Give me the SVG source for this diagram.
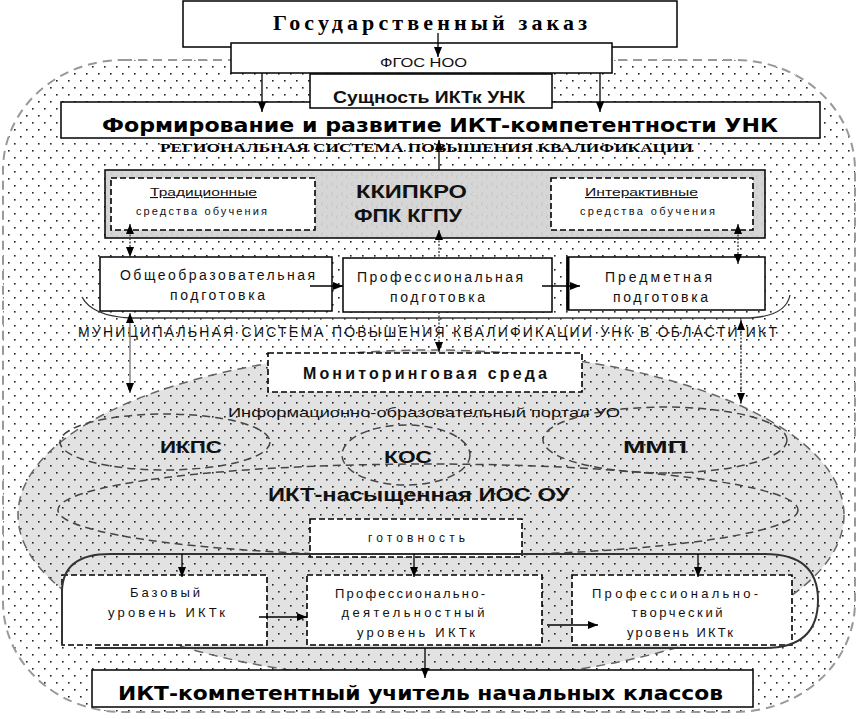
<svg xmlns="http://www.w3.org/2000/svg" width="859" height="719" viewBox="0 0 859 719">
<defs>
<pattern id="dots" width="12" height="14" patternUnits="userSpaceOnUse"><rect x="2" y="3" width="1.6" height="1.6" fill="#222"/><rect x="8" y="10" width="1.6" height="1.6" fill="#222"/></pattern>
<pattern id="greyp" width="10" height="10" patternUnits="userSpaceOnUse"><rect width="10" height="10" fill="#d6d6d6"/><path d="M3,2 L1,4 L3,6 M8,5 L6,7 L8,9" stroke="#c2c2c2" fill="none" stroke-width="0.8"/></pattern>
<marker id="ah" viewBox="0 0 10 8" refX="10" refY="4" markerWidth="10" markerHeight="8" markerUnits="userSpaceOnUse" orient="auto-start-reverse"><path d="M0,0 L10,4 L0,8 z" fill="#000"/></marker>
<style>
.box{fill:#fff;stroke:#000;stroke-width:1.5}
.dbox{fill:#fff;stroke:#000;stroke-width:1.6;stroke-dasharray:6 3}
.t{font-family:"Liberation Sans",Arial,sans-serif;fill:#111}
.b{font-weight:bold}
.w{font-family:"DejaVu Sans",Verdana,sans-serif;font-weight:bold;fill:#000}
.s{font-family:"Liberation Serif","Times New Roman",serif;font-weight:bold;fill:#000}
.ell{fill:none;stroke:#444;stroke-width:1.5;stroke-dasharray:8 5}
.ln{stroke:#000;stroke-width:1.3;fill:none}
.dl{stroke:#333;stroke-width:1.3;stroke-dasharray:2 1.5;fill:none}
</style>
</defs>
<g id="outer">
<rect x="3" y="60" width="852" height="652" rx="120" ry="110" fill="#fff"/>
<rect x="3" y="60" width="852" height="652" rx="120" ry="110" fill="url(#dots)" stroke="#999" stroke-width="2" stroke-dasharray="9 6"/>
</g>
<g id="portal">
<ellipse cx="431" cy="515" rx="413" ry="165" fill="#e2e2e2"/>
<ellipse cx="431" cy="515" rx="413" ry="165" fill="url(#dots)" stroke="#666" stroke-width="1.5" stroke-dasharray="9 6"/>
<ellipse class="ell" cx="165" cy="442" rx="105" ry="28"/>
<ellipse class="ell" cx="406" cy="455" rx="64" ry="30"/>
<ellipse class="ell" cx="665" cy="440" rx="122" ry="33"/>
<ellipse class="ell" cx="428" cy="510" rx="370" ry="46"/>
<text class="t" x="228" y="417" font-size="13" textLength="392" lengthAdjust="spacingAndGlyphs">Информационно-образовательный портал УО</text>
<text class="t b" x="160" y="453" font-size="17" textLength="62" lengthAdjust="spacingAndGlyphs">ИКПС</text>
<text class="t b" x="384" y="463" font-size="17" textLength="48" lengthAdjust="spacingAndGlyphs">КОС</text>
<text class="t b" x="623" y="453" font-size="17" textLength="64" lengthAdjust="spacingAndGlyphs">ММП</text>
<text class="t b" x="268" y="501" font-size="18" textLength="302" lengthAdjust="spacingAndGlyphs">ИКТ-насыщенная ИОС ОУ</text>
</g>
<g id="goszakaz">
<rect class="box" x="183" y="1" width="494" height="46"/>
<text class="s" x="273" y="30" font-size="22" textLength="314" lengthAdjust="spacing">Государственный заказ</text>
</g>
<g id="formirovanie">
<rect class="box" x="61" y="102" width="759" height="36"/>
<text class="w" x="102" y="132" font-size="19" textLength="676" lengthAdjust="spacingAndGlyphs">Формирование и развитие ИКТ-компетентности УНК</text>
</g>
<g id="fgos">
<rect class="box" x="231" y="43" width="381" height="30"/>
<text class="t" x="380" y="67" font-size="13" textLength="87" lengthAdjust="spacingAndGlyphs">ФГОС НОО</text>
</g>
<g id="sushnost">
<rect class="box" x="310" y="74" width="242" height="34"/>
<text class="t b" x="333" y="103" font-size="16" textLength="192" lengthAdjust="spacingAndGlyphs">Сущность ИКТк УНК</text>
</g>
<g id="regional">
<text class="s" x="160" y="152" font-size="13" textLength="533" lengthAdjust="spacingAndGlyphs">РЕГИОНАЛЬНАЯ СИСТЕМА ПОВЫШЕНИЯ КВАЛИФИКАЦИИ</text>
</g>
<g id="kkipkro">
<rect x="105" y="170" width="660" height="68" fill="url(#greyp)" stroke="#000" stroke-width="1.5"/>
<text class="t b" x="356" y="198" font-size="19" textLength="111" lengthAdjust="spacingAndGlyphs">ККИПКРО</text>
<text class="t b" x="354" y="222" font-size="19" textLength="108" lengthAdjust="spacingAndGlyphs">ФПК КГПУ</text>
</g>
<g id="tradicionnye">
<rect class="dbox" x="111" y="178" width="204" height="52"/>
<text class="t" x="150" y="196" font-size="11" textLength="107" lengthAdjust="spacingAndGlyphs" text-decoration="underline">Традиционные</text>
<text class="t" x="136" y="215" font-size="11" textLength="131" lengthAdjust="spacing">средства  обучения</text>
</g>
<g id="interaktivnye">
<rect class="dbox" x="551" y="178" width="202" height="52"/>
<text class="t" x="585" y="196" font-size="11" textLength="113" lengthAdjust="spacingAndGlyphs" text-decoration="underline">Интерактивные</text>
<text class="t" x="580" y="215" font-size="11" textLength="135" lengthAdjust="spacing">средства  обучения</text>
</g>
<g id="obsheobraz">
<rect class="box" x="100" y="257" width="232" height="54"/>
<text class="t" x="120" y="280" font-size="14" textLength="195" lengthAdjust="spacing">Общеобразовательная</text>
<text class="t" x="170" y="300" font-size="14" textLength="95" lengthAdjust="spacing">подготовка</text>
</g>
<g id="professional">
<rect class="box" x="343" y="258" width="209" height="54"/>
<text class="t" x="357" y="282" font-size="14" textLength="166" lengthAdjust="spacing">Профессиональная</text>
<text class="t" x="390" y="302" font-size="14" textLength="95" lengthAdjust="spacing">подготовка</text>
</g>
<g id="predmetnaya">
<rect class="box" x="567" y="257" width="198" height="53"/>
<line x1="568" y1="257" x2="568" y2="310" stroke="#000" stroke-width="3"/>
<text class="t" x="605" y="282" font-size="14" textLength="107" lengthAdjust="spacing">Предметная</text>
<text class="t" x="613" y="302" font-size="14" textLength="95" lengthAdjust="spacing">подготовка</text>
</g>
<g id="municipal">
<text class="t" x="78" y="337" font-size="14" textLength="699" lengthAdjust="spacing">МУНИЦИПАЛЬНАЯ СИСТЕМА ПОВЫШЕНИЯ КВАЛИФИКАЦИИ УНК В ОБЛАСТИ ИКТ</text>
</g>
<g id="monitoring">
<rect class="dbox" x="268" y="353" width="314" height="39"/>
<text class="t b" x="303" y="379" font-size="16" textLength="244" lengthAdjust="spacing">Мониторинговая  среда</text>
</g>
<g id="gotovnost">
<rect class="dbox" x="310" y="519" width="212" height="38"/>
<text class="t" x="368" y="542" font-size="12" textLength="97" lengthAdjust="spacing">готовность</text>
</g>
<g id="bazovy">
<rect class="dbox" x="62" y="575" width="205" height="70"/>
<text class="t" x="130" y="597" font-size="13" textLength="70" lengthAdjust="spacing">Базовый</text>
<text class="t" x="108" y="617" font-size="13" textLength="117" lengthAdjust="spacing">уровень ИКТк</text>
</g>
<g id="prof-deyat">
<rect class="dbox" x="307" y="575" width="235" height="70"/>
<text class="t" x="410" y="598" font-size="13" text-anchor="middle" textLength="150" lengthAdjust="spacing">Профессионально-</text>
<text class="t" x="413" y="617" font-size="13" text-anchor="middle" textLength="143" lengthAdjust="spacing">деятельностный</text>
<text class="t" x="416" y="637" font-size="13" text-anchor="middle" textLength="118" lengthAdjust="spacing">уровень ИКТк</text>
</g>
<g id="prof-tvorch">
<rect class="dbox" x="572" y="575" width="220" height="70"/>
<text class="t" x="675" y="598" font-size="13" text-anchor="middle" textLength="166" lengthAdjust="spacing">Профессионально-</text>
<text class="t" x="677" y="617" font-size="13" text-anchor="middle" textLength="91" lengthAdjust="spacing">творческий</text>
<text class="t" x="680" y="637" font-size="13" text-anchor="middle" textLength="106" lengthAdjust="spacing">уровень ИКТк</text>
</g>
<g id="ikt-teacher">
<rect class="box" x="92" y="670" width="661" height="37" stroke-width="2"/>
<text class="w" x="118" y="700" font-size="19" textLength="605" lengthAdjust="spacingAndGlyphs">ИКТ-компетентный учитель начальных классов</text>
</g>
<g id="connectors">
<path d="M82,297 Q92,316 130,318 L750,318 Q786,316 790,295" stroke="#333" stroke-width="1.3" fill="none"/>
<path d="M62,645 L62,592 Q62,554 110,554 L765,554 Q818,554 818,600 Q818,648 765,648 L95,648" stroke="#333" stroke-width="2" fill="none"/>
<line class="ln" x1="438" y1="33" x2="438" y2="57" marker-end="url(#ah)"/>
<line class="ln" x1="262" y1="73" x2="262" y2="112" stroke="#555" marker-end="url(#ah)"/>
<line class="ln" x1="600" y1="73" x2="600" y2="112" marker-end="url(#ah)"/>
<line class="ln" x1="439" y1="170" x2="439" y2="140" marker-end="url(#ah)"/>
<line class="dl" x1="439" y1="230" x2="439" y2="258" marker-start="url(#ah)"/>
<line class="dl" x1="439" y1="312" x2="439" y2="352" marker-end="url(#ah)"/>
<line class="dl" x1="130" y1="224" x2="130" y2="257" marker-start="url(#ah)" marker-end="url(#ah)"/>
<line x1="130" y1="313" x2="130" y2="393" stroke="#888" stroke-width="1.5" marker-start="url(#ah)" marker-end="url(#ah)"/>
<line class="dl" x1="738" y1="224" x2="738" y2="264" marker-start="url(#ah)" marker-end="url(#ah)"/>
<line class="dl" x1="741" y1="320" x2="741" y2="403" marker-start="url(#ah)" marker-end="url(#ah)"/>
<line class="ln" x1="310" y1="286" x2="343" y2="286" marker-end="url(#ah)"/>
<line class="ln" x1="542" y1="286" x2="580" y2="286" marker-end="url(#ah)"/>
<line class="ln" x1="182" y1="554" x2="182" y2="577" marker-end="url(#ah)"/>
<line class="ln" x1="414" y1="554" x2="414" y2="577" marker-end="url(#ah)"/>
<line class="ln" x1="698" y1="554" x2="698" y2="577" marker-end="url(#ah)"/>
<line class="ln" x1="259" y1="617" x2="307" y2="617" marker-end="url(#ah)"/>
<line class="ln" x1="547" y1="625" x2="598" y2="625" marker-end="url(#ah)"/>
<line class="ln" x1="425" y1="648" x2="425" y2="678" marker-end="url(#ah)"/>
</g>
</svg>
